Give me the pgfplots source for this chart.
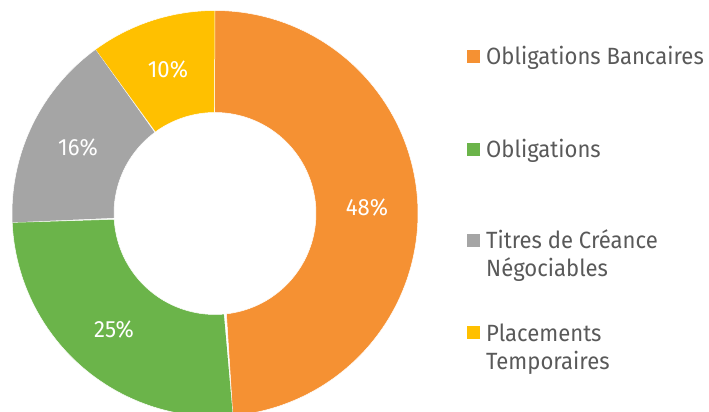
\documentclass[border=0pt]{standalone}
\usepackage{fontspec}
\setmainfont{Fira Sans}[FakeStretch=0.94]
\usepackage{pgfplots}
\usepackage{pgfplotstable}
\pgfplotsset{compat=1.18}
\definecolor{cOB}{HTML}{F59133}
\definecolor{cO}{HTML}{6BB44A}
\definecolor{cT}{HTML}{A5A5A5}
\definecolor{cP}{HTML}{FFC000}
\definecolor{txt}{HTML}{595959}
\tikzset{lab/.style={font=\fontsize{23.5}{28}\selectfont, text=white},
  leg/.style={font=\fontsize{23.5}{28}\selectfont, text=txt, anchor=base west, inner sep=0pt}}

\pgfplotstableread{
key value
OB 48.6
O 25.7
TCN 15.7
PT 10.0
}\shares

\newcommand\slice[3]{%
  \addplot[fill=#3, draw=white, line width=0.5pt, domain=0:2, samples=241]
  ({215+ifthenelse(x<1,203,101)*cos(ifthenelse(x<1,(#1)+x*((#2)-(#1)),(#2)-(x-1)*((#2)-(#1))))},
   {198.5+ifthenelse(x<1,203,101)*sin(ifthenelse(x<1,(#1)+x*((#2)-(#1)),(#2)-(x-1)*((#2)-(#1))))});%
}

\begin{document}%
\begin{tikzpicture}
\pgfplotstablegetelem{0}{value}\of\shares\let\vA\pgfplotsretval
\pgfplotstablegetelem{1}{value}\of\shares\let\vB\pgfplotsretval
\pgfplotstablegetelem{2}{value}\of\shares\let\vC\pgfplotsretval
\pgfplotstablegetelem{3}{value}\of\shares\let\vD\pgfplotsretval
\pgfmathsetmacro\aA{90}
\pgfmathsetmacro\aB{\aA-3.6*\vA}
\pgfmathsetmacro\aC{\aB-3.6*\vB}
\pgfmathsetmacro\aD{\aC-3.6*\vC}
\pgfmathsetmacro\aE{\aD-3.6*\vD}
\useasboundingbox (0,0) rectangle (709pt,412pt);
\clip (0,0) rectangle (709pt,412pt);
\begin{axis}[x=1pt, y=1pt, xmin=0, xmax=709, ymin=0, ymax=412,
  scale only axis, hide axis, clip=false, anchor=south west, at={(0,0)}]
\slice{\aA}{\aB}{cOB}
\slice{\aB}{\aC}{cO}
\slice{\aC}{\aD}{cT}
\slice{\aD}{\aE}{cP}
\node[lab] at (axis cs:367,204) {48\%};
\node[lab] at (axis cs:114,82) {25\%};
\node[lab] at (axis cs:78,264) {16\%};
\node[lab] at (axis cs:168,342) {10\%};
\fill[cOB] (axis cs:467,349) rectangle (axis cs:480,362);
\fill[cO] (axis cs:467,256) rectangle (axis cs:480,269);
\fill[cT] (axis cs:467,165) rectangle (axis cs:480,178);
\fill[cP] (axis cs:467,73) rectangle (axis cs:480,86);
\node[leg] at (axis cs:486,347) {Obligations Bancaires};
\node[leg] at (axis cs:486,254) {Obligations};
\node[leg] at (axis cs:486,163) {Titres de Créance};
\node[leg] at (axis cs:486,135) {Négociables};
\node[leg] at (axis cs:486,70) {Placements};
\node[leg] at (axis cs:486,42) {Temporaires};
\end{axis}
\end{tikzpicture}%
\end{document}
